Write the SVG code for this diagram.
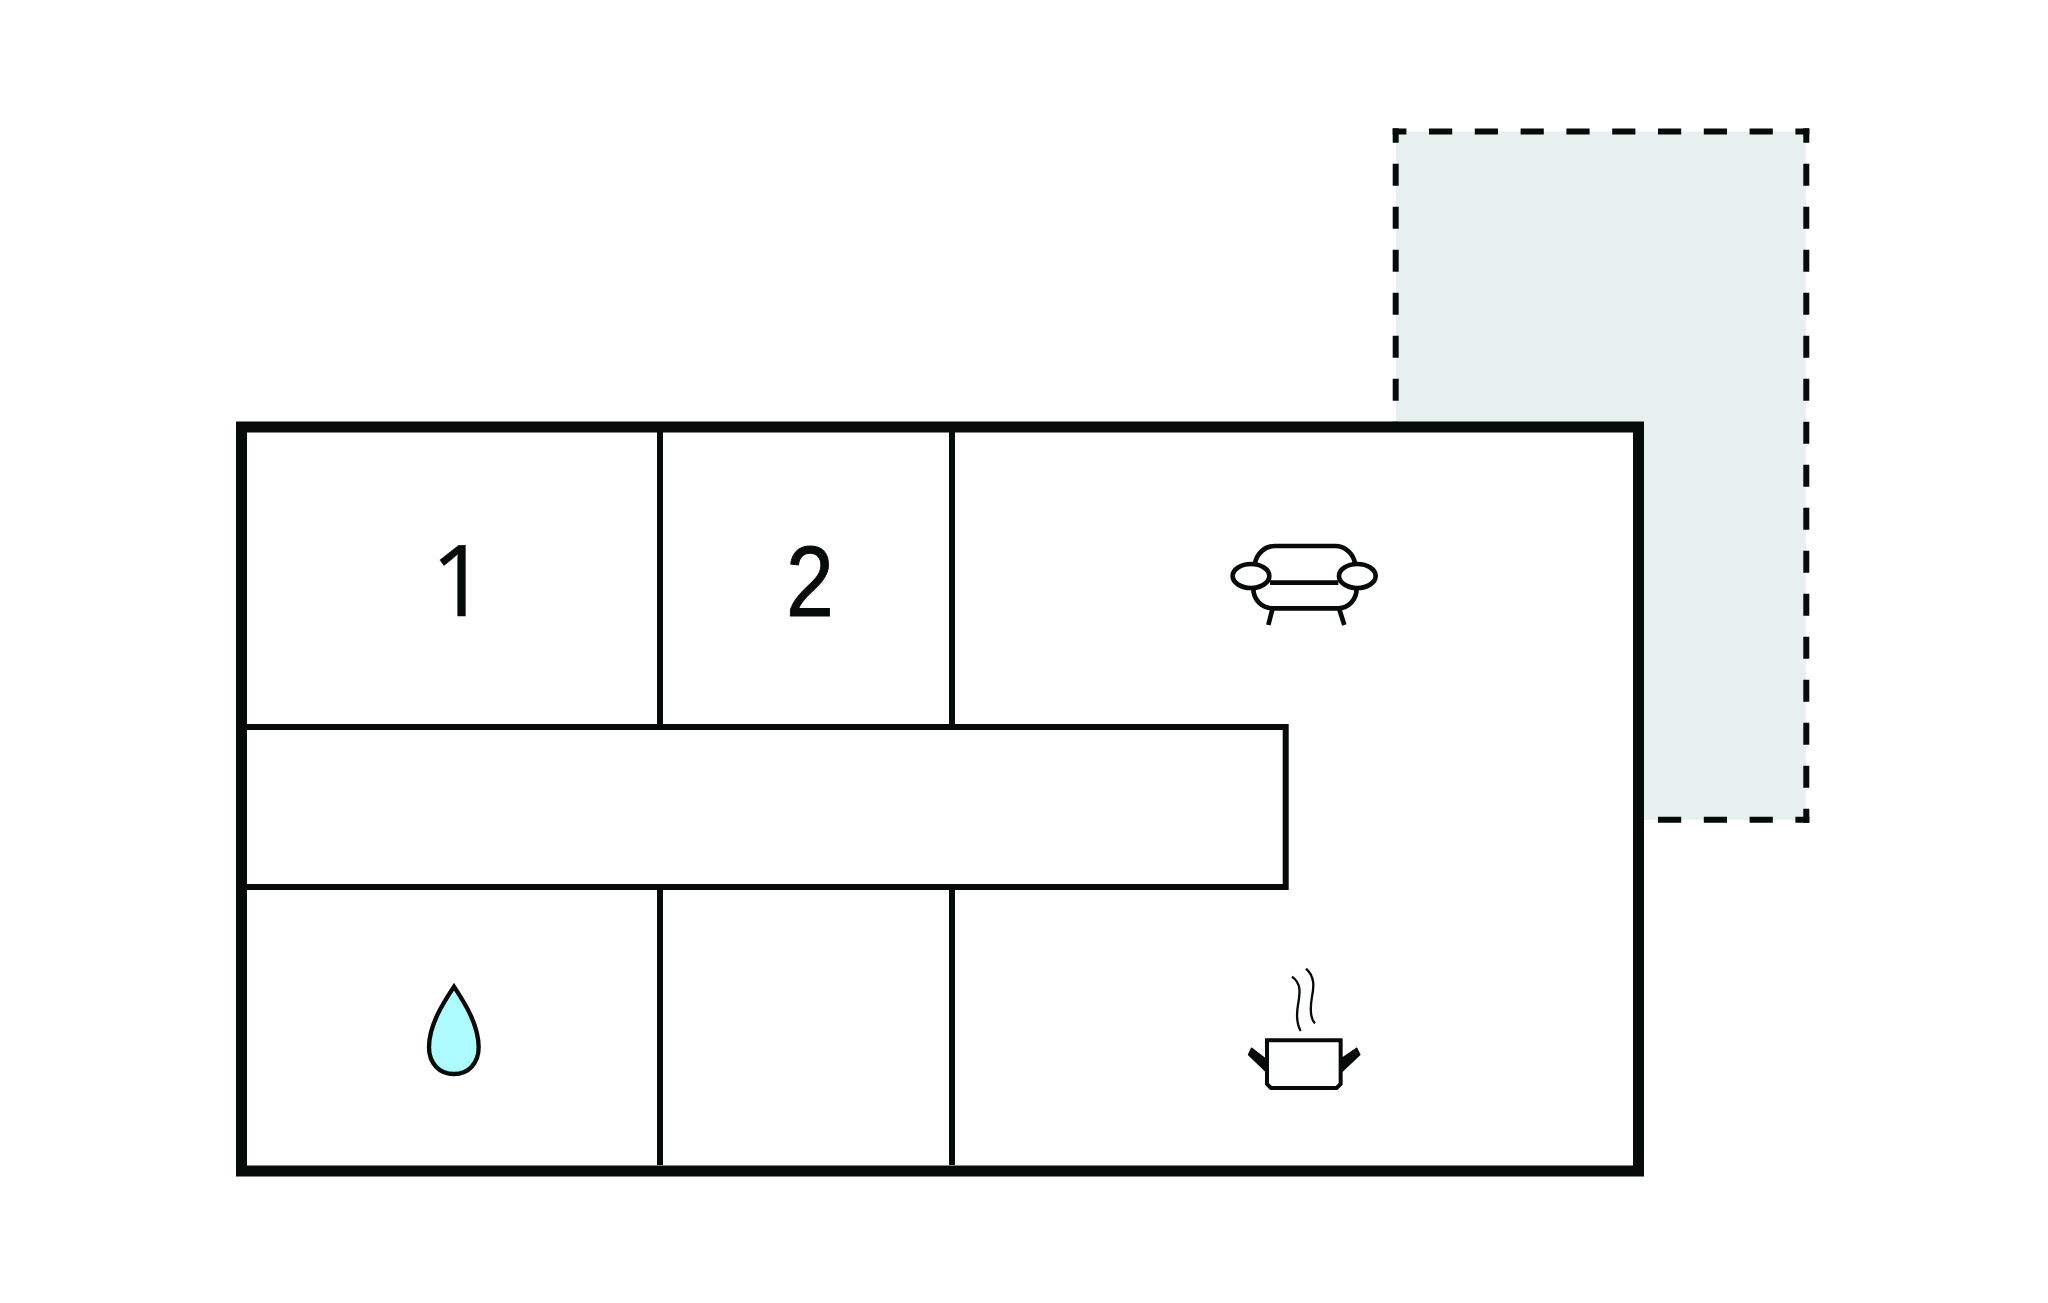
<svg xmlns="http://www.w3.org/2000/svg" width="2048" height="1303" viewBox="0 0 2048 1303">
<style>
.ink{stroke:#060a09;fill:none}
.dh{stroke:#060a09;stroke-width:6;fill:none;stroke-dasharray:23.2 22.6}
.dv{stroke:#060a09;stroke-width:6;fill:none;stroke-dasharray:22 21;stroke-dashoffset:7.6}
.wall{stroke:#060a09;stroke-width:6;fill:none}
.num{fill:#060a09;stroke:#060a09}
</style>
<rect width="2048" height="1303" fill="#fff"/>
<g id="terrace">
<rect x="1396" y="131.6" width="410" height="688.2" fill="#e8f0ef"/>
<path class="dh" d="M1392.7 131.5H1809.3" stroke-dashoffset="9.5"/>
<path class="dv" d="M1395.7 128.3V422"/>
<path class="dv" d="M1806.3 128.3V822.7"/>
<path class="dh" d="M1644 819.7H1809.3" stroke-dashoffset="31.8"/>
</g>
<g id="plan">
<rect x="241.5" y="427" width="1397" height="744" fill="#fff" stroke="#060a09" stroke-width="11"/>
<path class="wall" d="M660 432V724M952 432V724M660 890V1165M952 890V1165"/>
<path class="wall" d="M247 727H1285.7V887H247"/>
</g>
<g id="room-1"><text class="num" x="431" y="616" font-family="'Open Sans',sans-serif" font-size="98" stroke-width=".4">1</text></g>
<g id="room-2"><text class="num" transform="translate(810 616) scale(.86 1)" text-anchor="middle" font-family="'Liberation Sans',sans-serif" font-size="100" stroke-width="1">2</text></g>
<g id="sofa" transform="translate(1200 520) scale(.3333)">
<path class="ink" stroke-width="14" d="M165 130C170 100 195 78 225 78H405C435 78 460 100 465 130M210 188H415M160 205C160 240 185 265 220 265H415C445 265 470 240 470 205M217 268L205 315M418 268L433 315"/>
<ellipse class="ink" stroke-width="14" cx="153" cy="168" rx="55" ry="36"/>
<ellipse class="ink" stroke-width="14" cx="472" cy="168" rx="55" ry="36"/>
</g>
<g id="shower" transform="translate(400 960) scale(.3333)">
<path d="M162 80C195 130 236 195 236 262C236 310 205 342 162 342C118 342 87 310 87 262C87 195 129 130 162 80Z" fill="#adfbff" stroke="#060a09" stroke-width="13"/>
</g>
<g id="kitchen" transform="translate(1210 950) scale(.3333)">
<path class="ink" stroke-width="12" d="M171 271H392V402L380 414H183L171 402Z"/>
<path fill="#060a09" stroke="#060a09" stroke-width="5" stroke-linejoin="round" d="M116 314L125 295L168 328V364ZM449 314L440 295L396 325V364Z"/>
<path class="ink" stroke-width="7" d="M246 80C275 100 270 130 264 165C258 200 262 225 272 243M288 56C315 80 312 110 306 140C300 175 300 205 315 220"/>
</g>
</svg>
